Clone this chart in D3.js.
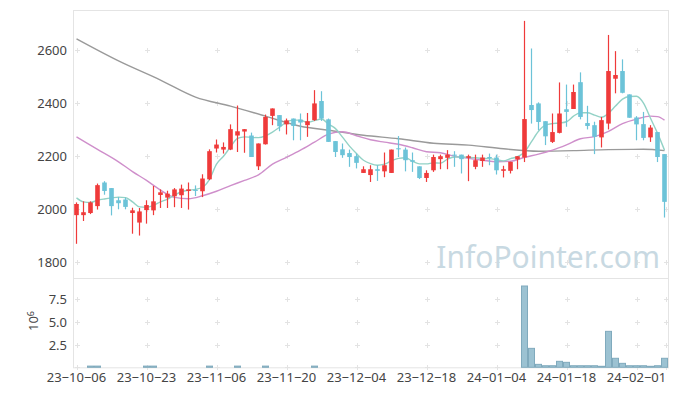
<!DOCTYPE html>
<html>
<head>
<meta charset="utf-8">
<script src="https://cdn.jsdelivr.net/npm/d3@7"></script>
<style>
  body { margin: 0; background: #fff; }
  svg { display: block; }
  text { font-family: "Noto Sans", sans-serif; }
</style>
</head>
<body>
<script>
// trading days (KRX)
var dates = [
  "2023-10-06","2023-10-10","2023-10-11","2023-10-12","2023-10-13","2023-10-16","2023-10-17","2023-10-18","2023-10-19","2023-10-20",
  "2023-10-23","2023-10-24","2023-10-25","2023-10-26","2023-10-27","2023-10-30","2023-10-31","2023-11-01","2023-11-02","2023-11-03",
  "2023-11-06","2023-11-07","2023-11-08","2023-11-09","2023-11-10","2023-11-13","2023-11-14","2023-11-15","2023-11-16","2023-11-17",
  "2023-11-20","2023-11-21","2023-11-22","2023-11-23","2023-11-24","2023-11-27","2023-11-28","2023-11-29","2023-11-30","2023-12-01",
  "2023-12-04","2023-12-05","2023-12-06","2023-12-07","2023-12-08","2023-12-11","2023-12-12","2023-12-13","2023-12-14","2023-12-15",
  "2023-12-18","2023-12-19","2023-12-20","2023-12-21","2023-12-22","2023-12-26","2023-12-27","2023-12-28","2024-01-02","2024-01-03",
  "2024-01-04","2024-01-05","2024-01-08","2024-01-09","2024-01-10","2024-01-11","2024-01-12","2024-01-15","2024-01-16","2024-01-17",
  "2024-01-18","2024-01-19","2024-01-22","2024-01-23","2024-01-24","2024-01-25","2024-01-26","2024-01-29","2024-01-30","2024-01-31",
  "2024-02-01","2024-02-02","2024-02-05","2024-02-06","2024-02-07"
];

var opens = [1978,1978,1986,2012,2101,2080,2034,2037,1986,1950, 1997,1996,2054,2044,2049,2053,2069,2073,2068,2113,
             2229,2225,2225,2278,2293,2278,2162,2245,2352,2355, 2320,2342,2338,2317,2336,2408,2339,2257,2226,2212,
             2200,2137,2129,2151,2143,2137,2230,2225,2185,2162, 2118,2147,2189,2194,2206,2206,2194,2160,2182,2197,
             2195,2145,2145,2188,2195,2393,2399,2332,2254,2288, 2377,2378,2479,2325,2317,2271,2323,2492,2521,2433,
             2346,2321,2271,2291,2208];
var highs = [2026,2030,2030,2097,2106,2080,2046,2044,2006,2005, 2034,2088,2075,2070,2080,2093,2101,2090,2132,2226,
             2263,2252,2320,2391,2302,2289,2248,2357,2380,2355, 2342,2342,2361,2363,2449,2445,2342,2257,2248,2225,
             2210,2162,2166,2166,2214,2225,2276,2233,2214,2162, 2147,2206,2206,2223,2219,2206,2206,2206,2206,2210,
             2206,2164,2179,2200,2710,2606,2403,2332,2361,2478, 2470,2470,2516,2390,2330,2348,2657,2596,2565,2433,
             2351,2367,2317,2291,2208];
var lows  = [1870,1956,1982,1999,2055,1977,2000,2000,1908,1901, 1946,1978,2005,2005,2008,2005,1999,2050,2046,2110,
             2214,2210,2223,2216,2213,2197,2148,2244,2317,2294, 2282,2260,2260,2273,2333,2333,2254,2197,2194,2160,
             2154,2137,2103,2107,2121,2137,2197,2143,2141,2114, 2103,2141,2151,2151,2160,2135,2106,2151,2160,2166,
             2131,2120,2135,2151,2178,2323,2298,2242,2250,2286, 2311,2378,2339,2301,2208,2233,2301,2437,2437,2345,
             2260,2260,2254,2178,1969];
var closes = [2020,1989,2026,2091,2069,2012,2023,2009,1996,1992, 2016,2030,2064,2059,2075,2078,2075,2070,2116,2219,
              2244,2235,2302,2294,2302,2197,2248,2348,2380,2313, 2335,2314,2327,2332,2399,2342,2254,2216,2204,2197,
              2175,2151,2151,2145,2166,2225,2226,2185,2179,2118, 2137,2197,2200,2206,2202,2189,2200,2185,2195,2195,
              2147,2151,2179,2200,2340,2374,2329,2275,2291,2361, 2367,2442,2348,2314,2273,2336,2521,2506,2439,2345,
              2320,2269,2308,2197,2028];

// volume (shares); the tiny ones sit below the panel floor and do not show
var volume = [
  0.05e6,0.05e6,0.24e6,0.24e6,0.05e6,0.05e6,0.05e6,0.05e6,0.05e6,0.05e6,
  0.24e6,0.24e6,0.05e6,0.05e6,0.05e6,0.05e6,0.05e6,0.05e6,0.05e6,0.24e6,
  0.05e6,0.05e6,0.05e6,0.24e6,0.05e6,0.05e6,0.05e6,0.24e6,0.05e6,0.05e6,
  0.05e6,0.05e6,0.05e6,0.05e6,0.24e6,0.05e6,0.05e6,0.05e6,0.05e6,0.05e6,
  0.05e6,0.05e6,0.05e6,0.05e6,0.05e6,0.05e6,0.05e6,0.05e6,0.05e6,0.05e6,
  0.05e6,0.05e6,0.05e6,0.05e6,0.05e6,0.05e6,0.05e6,0.05e6,0.05e6,0.05e6,
  0.05e6,0.05e6,0.05e6,0.05e6,8.95e6,2.17e6,0.43e6,0.28e6,0.28e6,0.76e6,
  0.65e6,0.28e6,0.28e6,0.28e6,0.28e6,0.22e6,4.02e6,1.09e6,0.54e6,0.28e6,
  0.28e6,0.28e6,0.22e6,0.28e6,1.09e6
];

// moving averages
var ma5 = [2043,2028,2026,2034,2039,2043,2046,2044,2028,2009, 2008,2015,2028,2038,2053,2066,2072,2075,2083,2113,
           2170,2200,2235,2267,2273,2271,2270,2277,2291,2309, 2329,2336,2336,2327,2334,2340,2321,2304,2272,2238,
           2210,2185,2172,2166,2170,2183,2192,2194,2181,2171, 2171,2175,2174,2189,2197,2197,2196,2194,2192,2191,
           2187,2182,2191,2198,2216,2255,2294,2317,2323,2325, 2330,2351,2364,2364,2355,2347,2362,2389,2415,2425,
           2426,2400,2343,2287,2223];
var ma20Idx = [0,3,6,8,10,12,14,16,18,20,22,24,26,28,30,32,34,36,38,40,42,44,46,48,50,52,54,56,58,60,62,64,66,68,70,72,74,76,78,80,82,83,84];
var ma20 = [2273,2226,2179,2142,2109,2072,2045,2040,2051,2068,2089,2109,2130,2170,2196,2223,2253,2283,2292,2277,2262,2253,2245,2232,2217,
            2213,2200,2192,2185,2179,2181,2196,2208,2223,2243,2266,2274,2294,2323,2340,2351,2349,2336];
var ma60Idx = [0,6,12,17,22,27,32,36,41,46,51,56,61,66,71,76,81,84];
var ma60 = [2642,2559,2487,2423,2389,2351,2313,2298,2279,2266,2249,2242,2228,2219,2221,2225,2226,2221];

var xTickIdx = [0,10,20,30,40,50,60,70,80];
var priceTicks = [1800,2000,2200,2400,2600];
var volTicks = [2.5e6,5e6,7.5e6];

var W = 677, H = 396;
var pLeft = 73, pRight = 668, pTop = 10, pMid = 278, pBottom = 367.3;

var svg = d3.select("body").append("svg")
  .attr("width", W)
  .attr("height", H);

var x = d3.scaleBand().domain(dates).range([pLeft, pRight]).padding(0);
var cx = function (i) { return x(dates[i]) + x.bandwidth() / 2; };

var y = d3.scaleLinear().domain([1743, 2751]).range([pMid - 0.5, pTop]);
var yv = d3.scaleLinear().domain([0.11e6, 9.82e6]).range([pBottom, pMid]);

// frame
svg.append("rect").attr("x", pLeft + 0.5).attr("y", pTop + 0.5).attr("width", pRight - pLeft).attr("height", pMid - pTop)
  .attr("fill", "none").attr("stroke", "#e4e4e4");
svg.append("rect").attr("x", pLeft + 0.5).attr("y", pMid + 0.5).attr("width", pRight - pLeft).attr("height", pBottom - pMid)
  .attr("fill", "none").attr("stroke", "#e4e4e4");

// plus-shaped grid marks
function cross(g, px, py) {
  g.append("path")
    .attr("d", "M" + (px - 2.5) + "," + py + "h5M" + px + "," + (py - 2.5) + "v5")
    .attr("stroke", "#e3e3e3").attr("stroke-width", 1).attr("fill", "none");
}
var grid = svg.append("g");
var gx = xTickIdx.map(function (k) { return Math.round(cx(k)) + 0.5; }).concat([pRight - 1.5]);
gx.forEach(function (px) {
  priceTicks.forEach(function (t) { cross(grid, px, Math.round(y(t)) + 0.5); });
  volTicks.forEach(function (t) { cross(grid, px, Math.round(yv(t)) + 0.5); });
  cross(grid, px, Math.round(pBottom) + 0.5);
});

// watermark
svg.append("text")
  .attr("x", 660).attr("y", 268)
  .attr("text-anchor", "end")
  .attr("font-size", "30px")
  .attr("fill", "#c8d9e2")
  .text("InfoPointer.com");

// moving averages
var line = d3.line().curve(d3.curveMonotoneX);
svg.append("path")
  .attr("d", line(ma60Idx.map(function (k, j) { return [cx(k), y(ma60[j])]; })))
  .attr("fill", "none").attr("stroke", "#9a9a9a").attr("stroke-width", 1.4);
svg.append("path")
  .attr("d", line(ma20Idx.map(function (k, j) { return [cx(k), y(ma20[j])]; })))
  .attr("fill", "none").attr("stroke", "#cf8fcb").attr("stroke-width", 1.4);
svg.append("path")
  .attr("d", line(ma5.map(function (v, i) { return [cx(i), y(v)]; })))
  .attr("fill", "none").attr("stroke", "#93d2c6").attr("stroke-width", 1.4);

// candles
var up = "#ef3a3a", down = "#6cc3d8";
var bodyW = 4.6;
var candles = svg.append("g").selectAll("g")
  .data(dates)
  .enter()
  .append("g");

candles.append("line")
  .attr("x1", function (d, i) { return cx(i); })
  .attr("x2", function (d, i) { return cx(i); })
  .attr("y1", function (d, i) { return y(highs[i]); })
  .attr("y2", function (d, i) { return y(lows[i]); })
  .attr("stroke", function (d, i) { return closes[i] >= opens[i] ? up : down; })
  .attr("stroke-width", 1.2);

candles.append("rect")
  .attr("x", function (d, i) { return cx(i) - bodyW / 2; })
  .attr("y", function (d, i) { return y(Math.max(opens[i], closes[i])); })
  .attr("width", bodyW)
  .attr("height", function (d, i) { return Math.max(1, Math.abs(y(opens[i]) - y(closes[i]))); })
  .attr("fill", function (d, i) { return closes[i] >= opens[i] ? up : down; });

// volume bars
svg.append("g").selectAll("rect")
  .data(volume)
  .enter()
  .append("rect")
  .attr("x", function (d, i) { return x(dates[i]) + 0.5; })
  .attr("y", function (d) { return yv(d); })
  .attr("width", x.bandwidth() - 1)
  .attr("height", function (d) { return Math.max(0, pBottom - yv(d)); })
  .attr("fill", "#9cc2d2")
  .attr("stroke", "#80aabd")
  .attr("stroke-width", 1)
  .style("display", function (d) { return pBottom - yv(d) > 0 ? null : "none"; });

// axes labels
var lab = svg.append("g").attr("font-size", "13px").attr("fill", "#444");
priceTicks.forEach(function (t) {
  lab.append("text").attr("x", 67).attr("y", y(t)).attr("dy", "0.35em")
    .attr("text-anchor", "end").text(t);
});
volTicks.forEach(function (t) {
  lab.append("text").attr("x", 67).attr("y", yv(t)).attr("dy", "0.35em")
    .attr("text-anchor", "end").text(d3.format(".1f")(t / 1e6));
});
xTickIdx.forEach(function (k) {
  var p = dates[k].split("-");
  lab.append("text").attr("x", cx(k)).attr("y", 382)
    .attr("text-anchor", "middle")
    .text(p[0].slice(2) + "\u2212" + p[1] + "\u2212" + p[2]);
});

// 10^6 exponent
var ex = lab.append("text")
  .attr("transform", "translate(38,321) rotate(-90)")
  .attr("text-anchor", "middle");
ex.append("tspan").text("10");
ex.append("tspan").attr("dy", "-0.45em").attr("font-size", "9px").text("6");
</script>
</body>
</html>
